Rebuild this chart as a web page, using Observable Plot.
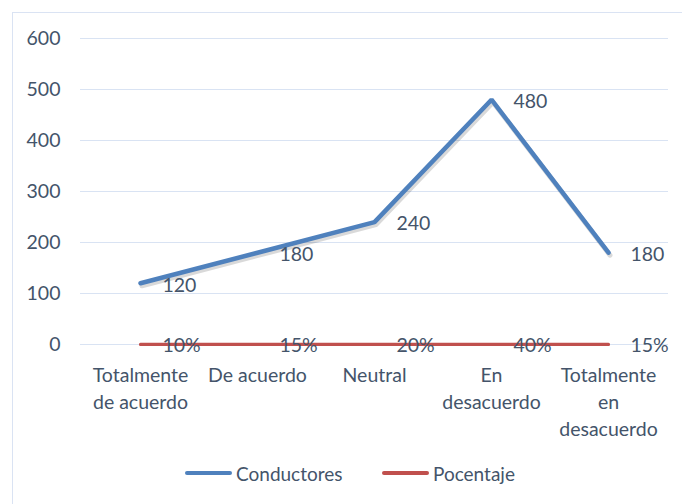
<!DOCTYPE html>
<html><head><meta charset="utf-8">
<script src="https://cdn.jsdelivr.net/npm/d3@7"></script>
<script src="https://cdn.jsdelivr.net/npm/@observablehq/plot@0.6"></script>
<style>
body{margin:0;background:#fff;font-family:Lato,sans-serif;}
#frame{position:absolute;left:12px;top:12px;width:680px;height:510px;border:1px solid #dae3f3;box-sizing:border-box;}
#chart{position:absolute;left:0;top:0;}
#legend{position:absolute;left:0;top:460px;width:682px;height:26px;font-size:19px;color:#44546a;}
.item{position:absolute;top:0;display:flex;align-items:center;height:26px;}
.sw{width:47px;height:4px;border-radius:2px;margin-right:4px;}
</style></head>
<body>
<div id="frame"></div>
<div id="chart"></div>
<div id="legend"></div>
<script>
const categories = ["Totalmente\nde acuerdo", "De acuerdo", "Neutral", "En\ndesacuerdo", "Totalmente\nen\ndesacuerdo"];
const conductores = [120, 180, 240, 480, 180];
const porcentaje = [0.10, 0.15, 0.20, 0.40, 0.15];
const yTicks = [0, 100, 200, 300, 400, 500, 600];
const seriesNames = ["Conductores", "Pocentaje"];
const colors = ["#4f81bd", "#c0504d"];

const dataC = categories.map((c, i) => ({cat: c, v: conductores[i]}));
const dataP = categories.map((c, i) => ({cat: c, v: porcentaje[i], label: Math.round(porcentaje[i] * 100) + "%"}));

const textColor = "#44546a";
const fs = 19.5;
const plot = Plot.plot({
  width: 682,
  height: 440,
  marginLeft: 80,
  marginRight: 14,
  marginTop: 38,
  marginBottom: 96,
  style: {fontFamily: "Lato, sans-serif", fontSize: fs + "px", color: textColor, background: "transparent"},
  x: {type: "point", domain: categories, padding: 0.5, label: null},
  y: {domain: [0, 600], label: null},
  marks: [
    Plot.gridY(yTicks, {stroke: "#d9e3f3", strokeOpacity: 1, strokeWidth: 1.2}),
    Plot.axisY(yTicks, {tickSize: 0, tickPadding: 20, fill: textColor, fontSize: fs, label: null}),
    Plot.axisX({tickSize: 0, tickPadding: 18, fill: textColor, fontSize: fs, lineHeight: 1.4, label: null}),
    Plot.line(dataP, {x: "cat", y: "v", stroke: colors[1], strokeWidth: 3.2}),
    Plot.line(dataC, {x: "cat", y: "v", stroke: "#000", strokeOpacity: 0.15, strokeWidth: 5, dx: 1.5, dy: 2.5}),
    Plot.line(dataC, {x: "cat", y: "v", stroke: colors[0], strokeWidth: 4.5, strokeLinecap: "round", strokeLinejoin: "miter"}),
    Plot.text(dataC, {x: "cat", y: "v", text: d => String(d.v), dx: 22, dy: 2, textAnchor: "start", fill: textColor, fontSize: fs}),
    Plot.text(dataP, {x: "cat", y: "v", text: "label", dx: 22, dy: 1, textAnchor: "start", fill: textColor, fontSize: fs})
  ]
});
document.getElementById("chart").appendChild(plot);

const legend = document.getElementById("legend");
const lx = [185, 382];
seriesNames.forEach((n, i) => {
  const it = document.createElement("div");
  it.className = "item";
  it.style.left = lx[i] + "px";
  const sw = document.createElement("div");
  sw.className = "sw";
  sw.style.background = colors[i];
  it.appendChild(sw);
  const t = document.createElement("span");
  t.textContent = n;
  it.appendChild(t);
  legend.appendChild(it);
});
</script>
</body></html>
